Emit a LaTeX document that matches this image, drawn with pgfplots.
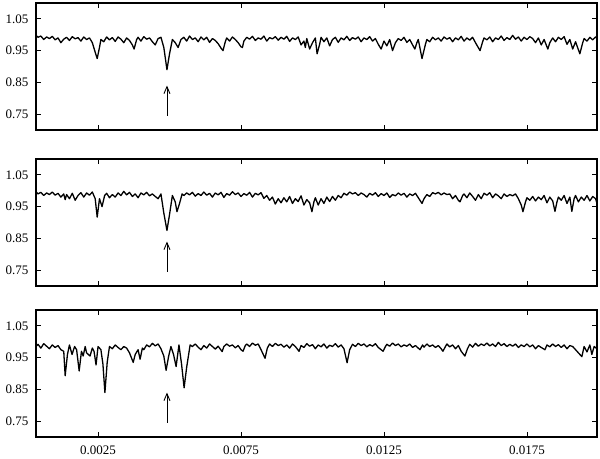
\documentclass[border=0pt]{standalone}
\usepackage{fontspec}
\setmainfont{Liberation Serif}
\usepackage{pgfplots}
\pgfplotsset{compat=1.18}
\usetikzlibrary{arrows.meta}

% x in units of 1e-4
\pgfplotstableread[row sep=\\]{
x y\\
3.3 0.998\\ 4 0.992\\ 5 0.996\\ 6 0.985\\ 7 0.993\\ 8 0.988\\ 9 0.995\\ 10 0.984\\ 11 0.990\\ 12 0.975\\
13 0.986\\ 14 0.992\\ 15 0.982\\ 16 0.994\\ 17 0.987\\ 18 0.991\\ 19 0.980\\ 20 0.993\\ 21 0.985\\ 22 0.990\\
23 0.975\\ 24 0.945\\ 24.7 0.925\\ 25.5 0.960\\ 26 0.985\\ 27 0.978\\ 28 0.993\\ 29 0.984\\ 30 0.991\\ 31 0.979\\
32 0.993\\ 33 0.986\\ 34 0.975\\ 35 0.990\\ 36 0.982\\ 37 0.968\\ 37.6 0.955\\ 38.5 0.985\\ 39 0.992\\ 40 0.980\\
41 0.994\\ 42 0.986\\ 43 0.990\\ 44 0.978\\ 45 0.968\\ 46 0.988\\ 47 0.992\\ 48 0.960\\ 49.1 0.890\\ 50 0.940\\
51 0.985\\ 52 0.975\\ 53 0.960\\ 54 0.985\\ 55 0.992\\ 56 0.980\\ 57 0.996\\ 58 0.985\\ 59 0.990\\ 60 0.978\\
61 0.993\\ 62 0.984\\ 63 0.992\\ 64 0.976\\ 65 0.988\\ 66 0.982\\ 67 0.972\\ 68 0.958\\ 68.7 0.950\\ 69.5 0.978\\
70 0.990\\ 71 0.980\\ 72 0.993\\ 73 0.985\\ 74 0.975\\ 75 0.962\\ 75.5 0.960\\ 76 0.980\\ 77 0.992\\ 78 0.986\\
79 0.995\\ 80 0.982\\ 81 0.990\\ 82 0.986\\ 83 0.996\\ 84 0.980\\ 85 0.991\\ 86 0.987\\ 87 0.994\\ 88 0.983\\
89 0.992\\ 90 0.986\\ 91 0.995\\ 92 0.979\\ 93 0.990\\ 94 0.985\\ 95 0.993\\ 96 0.968\\ 97 0.980\\ 97.5 0.960\\
98 0.988\\ 99 0.955\\ 100 0.975\\ 101 0.990\\ 101.6 0.940\\ 102.5 0.970\\ 103 0.992\\ 104 0.978\\ 105 0.990\\ 106 0.965\\
107 0.985\\ 108 0.992\\ 109 0.976\\ 110 0.990\\ 111 0.984\\ 112 0.995\\ 113 0.982\\ 114 0.991\\ 115 0.986\\ 116 0.993\\
117 0.978\\ 118 0.990\\ 119 0.985\\ 120 0.994\\ 121 0.980\\ 122 0.988\\ 123 0.970\\ 124 0.955\\ 125 0.980\\ 126 0.965\\
127 0.985\\ 128 0.950\\ 129 0.975\\ 130 0.988\\ 131 0.982\\ 132 0.992\\ 133 0.976\\ 134 0.985\\ 135 0.968\\ 135.8 0.955\\
136.5 0.975\\ 137 0.985\\ 138.3 0.925\\ 139.5 0.970\\ 140 0.985\\ 141 0.978\\ 142 0.992\\ 143 0.984\\ 144 0.990\\ 145 0.980\\
146 0.993\\ 147 0.986\\ 148 0.991\\ 149 0.978\\ 150 0.990\\ 151 0.984\\ 152 0.995\\ 153 0.980\\ 154 0.990\\ 155 0.983\\
156 0.992\\ 157 0.975\\ 158.6 0.950\\ 159.5 0.978\\ 160 0.990\\ 161 0.984\\ 162 0.993\\ 163 0.978\\ 164 0.990\\ 165 0.985\\
166 0.996\\ 167 0.982\\ 168 0.991\\ 169 0.985\\ 170 0.998\\ 171 0.986\\ 172 0.993\\ 173 0.980\\ 174 0.992\\ 175 0.985\\
176 0.994\\ 177 0.988\\ 178 0.975\\ 179 0.990\\ 180 0.968\\ 181 0.985\\ 182.3 0.955\\ 183 0.975\\ 184 0.990\\ 185 0.978\\
186 0.992\\ 187 0.985\\ 188 0.994\\ 189 0.970\\ 190 0.985\\ 191 0.955\\ 192 0.978\\ 193.5 0.940\\ 194.5 0.975\\ 195 0.988\\
196 0.980\\ 197 0.992\\ 198 0.984\\ 199 0.993\\ 199.5 0.988\\
}\specA

\pgfplotstableread[row sep=\\]{
x y\\
3.3 0.997\\ 4 0.990\\ 5 0.995\\ 6 0.985\\ 7 0.993\\ 8 0.988\\ 9 0.996\\ 10 0.986\\ 11 0.992\\ 12 0.980\\
13 0.990\\ 13.5 0.972\\ 14 0.988\\ 15 0.975\\ 16 0.992\\ 17 0.970\\ 18 0.985\\ 19 0.994\\ 20 0.980\\ 21 0.993\\
22 0.986\\ 23 0.996\\ 24 0.975\\ 24.7 0.917\\ 25.5 0.975\\ 26.4 0.950\\ 27.3 0.985\\ 28 0.992\\ 29 0.978\\ 30 0.988\\
31 0.980\\ 32 0.993\\ 33 0.985\\ 34 0.998\\ 35 0.987\\ 36 0.995\\ 37 0.982\\ 38 0.990\\ 39 0.978\\ 40 0.993\\
41 0.987\\ 42 0.995\\ 43 0.984\\ 44 0.990\\ 45 0.982\\ 46 0.975\\ 47 0.990\\ 48 0.930\\ 49.1 0.875\\ 50 0.925\\
51 0.985\\ 52 0.965\\ 52.6 0.934\\ 53.5 0.960\\ 54.4 0.990\\ 55 0.985\\ 56 0.993\\ 57 0.987\\ 58 0.995\\ 59 0.983\\
60 0.991\\ 61 0.985\\ 62 0.996\\ 63 0.986\\ 64 0.992\\ 65 0.980\\ 66 0.993\\ 67 0.987\\ 68 0.995\\ 69 0.979\\
70 0.991\\ 71 0.986\\ 72 0.997\\ 73 0.988\\ 74 0.993\\ 75 0.982\\ 76 0.991\\ 77 0.986\\ 78 0.995\\ 79 0.980\\
80 0.992\\ 81 0.987\\ 82 0.994\\ 83 0.976\\ 84 0.985\\ 85 0.970\\ 86 0.980\\ 87 0.958\\ 88 0.975\\ 89 0.962\\
90 0.978\\ 91 0.965\\ 92 0.982\\ 93 0.960\\ 94 0.975\\ 95 0.966\\ 96 0.984\\ 97 0.955\\ 98 0.972\\ 99 0.962\\
99.8 0.934\\ 100.5 0.965\\ 101 0.978\\ 102 0.955\\ 103 0.975\\ 104 0.960\\ 105 0.980\\ 106 0.966\\ 107 0.982\\ 108 0.970\\
109 0.985\\ 110 0.978\\ 111 0.992\\ 112 0.986\\ 113 0.996\\ 114 0.990\\ 115 0.994\\ 116 0.985\\ 117 0.993\\ 118 0.988\\
119 0.980\\ 120 0.992\\ 121 0.986\\ 122 0.994\\ 123 0.982\\ 124 0.991\\ 125 0.985\\ 126 0.993\\ 127 0.979\\ 128 0.988\\
129 0.984\\ 130 0.993\\ 131 0.986\\ 132 0.992\\ 133 0.980\\ 134 0.990\\ 135 0.985\\ 136 0.992\\ 137 0.978\\ 138.3 0.960\\
139 0.975\\ 140 0.988\\ 141 0.982\\ 142 0.994\\ 143 0.990\\ 144 0.995\\ 145 0.987\\ 146 0.993\\ 147 0.988\\ 148 0.990\\
149 0.975\\ 150 0.985\\ 151 0.970\\ 151.6 0.965\\ 152.5 0.985\\ 153 0.990\\ 154 0.978\\ 155 0.993\\ 156 0.982\\ 157 0.970\\
158 0.988\\ 159 0.975\\ 160 0.992\\ 161 0.986\\ 162 0.994\\ 163 0.978\\ 164 0.990\\ 165 0.984\\ 166 0.975\\ 167 0.990\\
168 0.982\\ 169 0.988\\ 170 0.984\\ 171 0.990\\ 172 0.975\\ 173 0.955\\ 173.6 0.934\\ 174.5 0.965\\ 175 0.978\\ 176 0.970\\
177 0.982\\ 178 0.968\\ 179 0.980\\ 180 0.972\\ 181 0.985\\ 182 0.962\\ 183 0.980\\ 184 0.968\\ 184.8 0.935\\ 185.5 0.965\\
186 0.980\\ 187 0.970\\ 188 0.985\\ 189 0.960\\ 190 0.980\\ 190.7 0.935\\ 191.5 0.975\\ 192 0.985\\ 193 0.965\\ 194 0.980\\
195 0.970\\ 196 0.985\\ 197 0.968\\ 198 0.982\\ 199 0.975\\ 199.5 0.960\\
}\specB

\pgfplotstableread[row sep=\\]{
x y\\
3.3 0.985\\ 4 0.992\\ 5 0.980\\ 6 0.994\\ 7 0.986\\ 8 0.978\\ 9 0.990\\ 10 0.982\\ 11 0.988\\ 12 0.975\\
13 0.970\\ 13.5 0.893\\ 14.3 0.960\\ 15 0.990\\ 15.9 0.960\\ 16.8 0.985\\ 17.5 0.975\\ 18.4 0.908\\ 19.2 0.970\\ 19.8 0.955\\
20.5 0.985\\ 21 0.965\\ 22.2 0.955\\ 23 0.980\\ 23.6 0.970\\ 24.3 0.927\\ 25 0.985\\ 26 0.975\\ 26.7 0.930\\ 27.4 0.840\\
28.2 0.935\\ 29 0.985\\ 30 0.978\\ 31 0.990\\ 32 0.982\\ 33 0.975\\ 34 0.985\\ 35 0.980\\ 36 0.965\\ 37.3 0.935\\
38 0.960\\ 39 0.975\\ 39.7 0.945\\ 40.5 0.980\\ 41 0.975\\ 42 0.990\\ 43 0.984\\ 44 0.995\\ 45 0.987\\ 46 0.993\\
47 0.978\\ 48 0.955\\ 48.8 0.910\\ 49.7 0.955\\ 50.5 0.985\\ 51.4 0.960\\ 52.3 0.922\\ 53.3 0.990\\ 54.2 0.930\\ 55.1 0.855\\
56 0.920\\ 57.2 0.990\\ 58 0.985\\ 59 0.993\\ 60 0.983\\ 61 0.975\\ 62 0.988\\ 63 0.980\\ 64 0.993\\ 65 0.985\\
66 0.977\\ 67 0.986\\ 68.4 0.969\\ 69 0.985\\ 70 0.993\\ 71 0.986\\ 72 0.990\\ 73 0.981\\ 74 0.988\\ 75 0.975\\
75.7 0.970\\ 76.5 0.988\\ 77 0.993\\ 78 0.985\\ 79 0.996\\ 80 0.989\\ 81 0.993\\ 82 0.975\\ 83.4 0.948\\ 84.2 0.980\\
85 0.993\\ 86 0.985\\ 87 0.995\\ 88 0.988\\ 89 0.992\\ 90 0.983\\ 91 0.990\\ 92 0.980\\ 93 0.993\\ 94 0.985\\
95.3 0.970\\ 96 0.988\\ 97 0.982\\ 98 0.994\\ 99 0.986\\ 100 0.991\\ 101 0.978\\ 102 0.990\\ 103 0.984\\ 104 0.993\\
105 0.980\\ 106 0.989\\ 107 0.985\\ 108 0.994\\ 109 0.983\\ 110 0.990\\ 111 0.978\\ 112.1 0.934\\ 113 0.975\\ 114 0.992\\
115 0.985\\ 116 0.995\\ 117 0.988\\ 118 0.993\\ 119 0.984\\ 120 0.991\\ 121 0.986\\ 122 0.994\\ 123 0.982\\ 124 0.975\\
124.7 0.970\\ 125.5 0.985\\ 126 0.992\\ 127 0.986\\ 128 0.996\\ 129 0.988\\ 130 0.993\\ 131 0.984\\ 132 0.990\\ 133 0.986\\
134 0.993\\ 135 0.982\\ 136 0.988\\ 137.6 0.975\\ 138.5 0.990\\ 139 0.983\\ 140 0.993\\ 141 0.985\\ 142 0.990\\ 143 0.982\\
144 0.988\\ 145 0.978\\ 145.6 0.970\\ 146.5 0.985\\ 147 0.993\\ 148 0.984\\ 149 0.990\\ 150 0.978\\ 151 0.988\\ 152 0.970\\
153.3 0.955\\ 154.2 0.978\\ 155 0.992\\ 156 0.983\\ 157 0.995\\ 158 0.986\\ 159 0.993\\ 160 0.988\\ 161 0.996\\ 162 0.987\\
163 0.993\\ 164 0.985\\ 165 0.998\\ 166 0.988\\ 167 0.994\\ 168 0.985\\ 169 0.992\\ 170 0.986\\ 171 0.993\\ 172 0.982\\
173 0.990\\ 174 0.985\\ 175 0.993\\ 176 0.984\\ 177 0.990\\ 178 0.978\\ 179 0.988\\ 180 0.982\\ 181.3 0.975\\ 182 0.990\\
183 0.984\\ 184 0.993\\ 185 0.985\\ 186 0.991\\ 187 0.982\\ 188 0.990\\ 189 0.978\\ 190 0.988\\ 191 0.985\\ 192 0.975\\
193 0.965\\ 194.2 0.953\\ 195 0.985\\ 196 0.968\\ 197 0.990\\ 197.7 0.960\\ 198.5 0.985\\ 199.5 0.978\\
}\specC

\pgfplotsset{
  panel/.style={
    anchor=north west,
    scale only axis,
    width=561bp, height=127bp,
    xmin=3.3, xmax=199.5,
    ymin=0.7, ymax=1.1,
    xtick={25,75,125,175},
    xticklabels={},
    ytick={0.75,0.85,0.95,1.05},
    yticklabels={0.75,0.85,0.95,1.05},
    tick align=inside,
    major tick length=5bp,
    axis line style={line width=1.1bp},
    tick style={line width=0.9bp, black},
    tick label style={font=\fontsize{13bp}{15bp}\selectfont},
    yticklabel style={xshift=-4bp},
    xticklabel style={yshift=-5bp},
  },
  spec/.style={black, line width=1.3bp, line join=round, no markers},
  arr/.style={black, line width=0.9bp, no markers, -{Straight Barb[length=7bp,width=6bp]}},
}

\begin{document}
\begin{tikzpicture}
\useasboundingbox (-36bp,3bp) rectangle (564bp,-456bp);

\begin{axis}[panel, at={(0,0)}]
\addplot[spec] table[x=x,y=y] {\specA};
\addplot[arr] coordinates {(49.1,0.745) (49.1,0.84)};
\end{axis}

\begin{axis}[panel, at={(0,-156bp)}]
\addplot[spec] table[x=x,y=y] {\specB};
\addplot[arr] coordinates {(49.1,0.745) (49.1,0.84)};
\end{axis}

\begin{axis}[panel, at={(0,-307bp)},
  xticklabels={0.0025,0.0075,0.0125,0.0175}]
\addplot[spec] table[x=x,y=y] {\specC};
\addplot[arr] coordinates {(49.1,0.745) (49.1,0.84)};
\end{axis}
\end{tikzpicture}
\end{document}
